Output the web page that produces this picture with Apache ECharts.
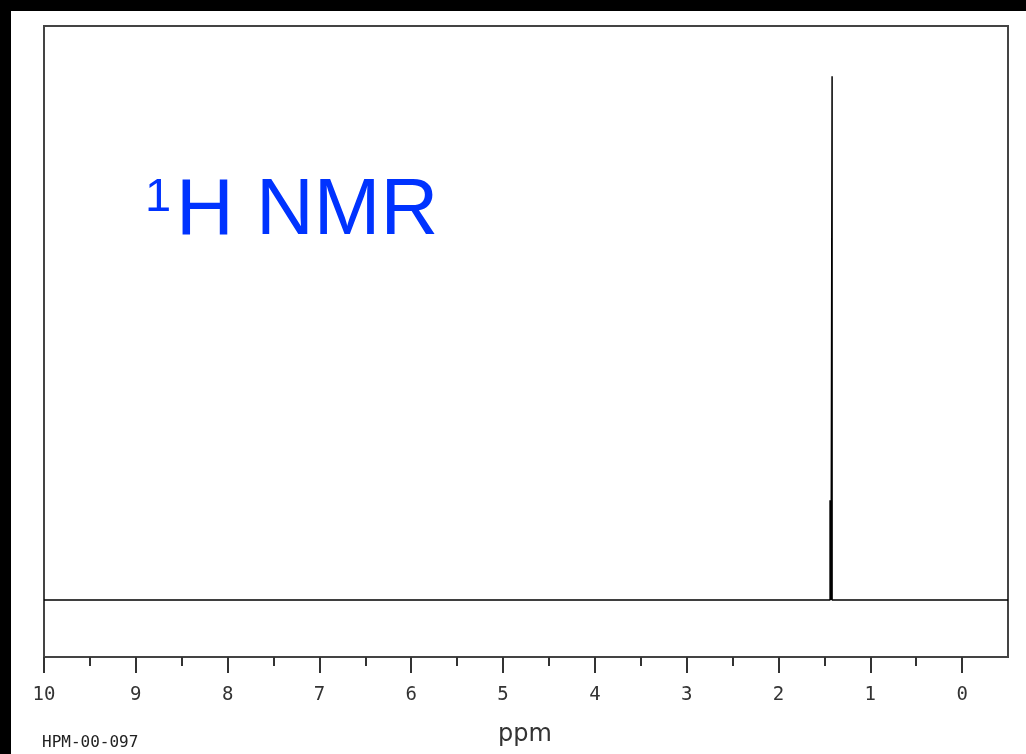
<!DOCTYPE html>
<html>
<head>
<meta charset="utf-8">
<script src="https://cdn.jsdelivr.net/npm/echarts@6/dist/echarts.min.js"></script>
<style>
  html, body { margin: 0; padding: 0; background: #000; }
  #paper { position: absolute; left: 11px; top: 11px; width: 1015px; height: 743px; background: #fff; }
  #chart { position: absolute; left: 0; top: 0; width: 1026px; height: 754px; }
</style>
</head>
<body>
<div id="paper"></div>
<div id="chart"></div>
<script>
// ---- data ----
const ppmMin = -0.5;
const ppmMax = 10;
const majorTicks = [0, 1, 2, 3, 4, 5, 6, 7, 8, 9, 10];
const minorTicks = [0.5, 1.5, 2.5, 3.5, 4.5, 5.5, 6.5, 7.5, 8.5, 9.5];
const peakPpm = [1.438, 1.427, 1.416];
const peakHeight = [17.5, 17.5, 91.9];
const intensityMin = -10;
const intensityMax = 100.7;
const specId = 'HPM-00-097';

// build the stick spectrum trace (descending ppm)
const trace = [[ppmMax, 0]];
peakPpm.forEach((p, i) => {
  trace.push([p, 0], [p, peakHeight[i]], [p, 0]);
});
trace.push([ppmMin, 0]);

const chart = echarts.init(document.getElementById('chart'), null, { renderer: 'canvas' });
chart.setOption({
  backgroundColor: 'transparent',
  animation: false,
  grid: {
    left: 44, top: 26, width: 964, height: 631,
    show: true, borderColor: '#444', borderWidth: 2, backgroundColor: 'transparent'
  },
  xAxis: [
    {
      type: 'value', min: ppmMin, max: ppmMax, inverse: true, position: 'bottom',
      splitLine: { show: false },
      axisLine: { show: true, onZero: false, lineStyle: { color: '#444', width: 2 } },
      axisTick: { show: true, customValues: majorTicks, length: 16, lineStyle: { color: '#333', width: 2 } },
      axisLabel: {
        show: true, customValues: majorTicks, margin: 29,
        fontFamily: 'DejaVu Sans Mono', fontSize: 19, color: '#333'
      }
    },
    {
      type: 'value', min: ppmMin, max: ppmMax, inverse: true, position: 'bottom',
      splitLine: { show: false },
      axisLine: { show: false, onZero: false },
      axisTick: { show: true, customValues: minorTicks, length: 9, lineStyle: { color: '#333', width: 2 } },
      axisLabel: { show: false }
    }
  ],
  yAxis: {
    type: 'value', min: intensityMin, max: intensityMax, show: false,
    splitLine: { show: false }
  },
  series: [{
    type: 'line',
    xAxisIndex: 0,
    data: trace,
    showSymbol: false,
    symbol: 'none',
    lineStyle: { color: '#000', width: 1.5 },
    silent: true
  }],
  graphic: [
    {
      type: 'text', x: 145, y: 198,
      style: { text: '1', font: '47px "Liberation Sans"', fill: '#0033ff', align: 'left', verticalAlign: 'middle' }
    },
    {
      type: 'text', x: 176, y: 212,
      style: { text: 'H NMR', font: '80px "Liberation Sans"', fill: '#0033ff', align: 'left', verticalAlign: 'middle' }
    },
    {
      type: 'text', x: 525, y: 735,
      style: { text: 'ppm', font: '24px "DejaVu Sans"', fill: '#333', align: 'center', verticalAlign: 'middle' }
    },
    {
      type: 'text', x: 42, y: 743,
      style: { text: specId, font: '16px "DejaVu Sans Mono"', fill: '#222', align: 'left', verticalAlign: 'middle' }
    }
  ]
});
</script>
</body>
</html>
